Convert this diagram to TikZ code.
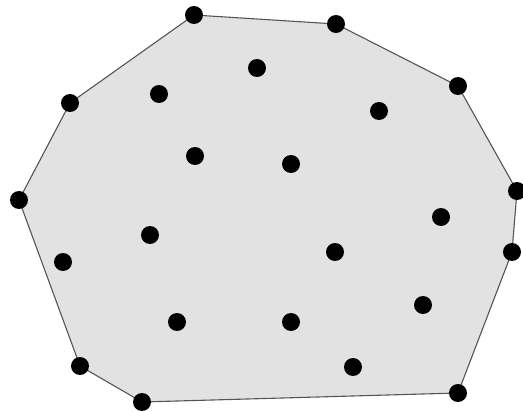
\documentclass[tikz,border=0pt]{standalone}
\definecolor{hullfill}{HTML}{E2E2E2}
\definecolor{hullline}{HTML}{555555}
\tikzset{
  pt/.style={circle, fill=black, inner sep=0pt, minimum size=18pt},
  hull/.style={draw=hullline, fill=hullfill, line width=1.1pt, line join=round}
}
\begin{document}
\begin{tikzpicture}[x=1pt,y=-1pt]
\useasboundingbox (0,0) rectangle (523,412);
% hull vertices
\coordinate (h1) at (194,15);
\coordinate (h2) at (336,24);
\coordinate (h3) at (458,86);
\coordinate (h4) at (517,191);
\coordinate (h5) at (512,252);
\coordinate (h6) at (458,393);
\coordinate (h7) at (142,402);
\coordinate (h8) at (80,366);
\coordinate (h9) at (19,200);
\coordinate (h10) at (70,103);
\path[hull] (h1) -- (h2) -- (h3) -- (h4) -- (h5) -- (h6) -- (h7) -- (h8) -- (h9) -- (h10) -- cycle;
\foreach \h in {h1,h2,h3,h4,h5,h6,h7,h8,h9,h10}
  \node[pt] (n\h) at (\h) {};
% interior points
\node[pt] (p1) at (257,68) {};
\node[pt] (p2) at (159,94) {};
\node[pt] (p3) at (379,111) {};
\node[pt] (p4) at (195,156) {};
\node[pt] (p5) at (291,164) {};
\node[pt] (p6) at (441,217) {};
\node[pt] (p7) at (150,235) {};
\node[pt] (p8) at (335,252) {};
\node[pt] (p9) at (63,262) {};
\node[pt] (p10) at (423,305) {};
\node[pt] (p11) at (177,322) {};
\node[pt] (p12) at (291,322) {};
\node[pt] (p13) at (353,367) {};
\end{tikzpicture}
\end{document}
